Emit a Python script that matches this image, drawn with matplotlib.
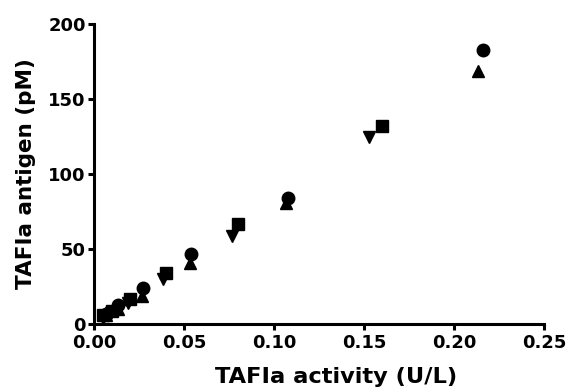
import matplotlib
matplotlib.use("Agg")
import matplotlib.pyplot as plt

plt.rcParams['font.family'] = ['DejaVu Sans']
plt.rcParams['font.weight'] = 'bold'

# TAFIa activity (U/L) vs TAFIa antigen (pM), four dilution series
circle_x = [0.216, 0.108, 0.054, 0.027, 0.0135, 0.0068]
circle_y = [183, 84, 46.5, 24, 12.5, 7]
tri_up_x = [0.2133, 0.1067, 0.0533, 0.0267, 0.0133, 0.0067]
tri_up_y = [169, 81, 41, 18.5, 10, 6]
square_x = [0.160, 0.080, 0.040, 0.020, 0.010, 0.005]
square_y = [132, 67, 34, 16.5, 9, 6]
tri_down_x = [0.1528, 0.0764, 0.0382, 0.0191, 0.0095, 0.0048]
tri_down_y = [124.5, 58.5, 30, 14, 7.5, 4]

x_ticks = [0.00, 0.05, 0.10, 0.15, 0.20, 0.25]
x_tick_labels = ["0.00", "0.05", "0.10", "0.15", "0.20", "0.25"]
y_ticks = [0, 50, 100, 150, 200]

fig = plt.figure(figsize=(5.69, 3.92), dpi=100)
ax = fig.add_axes([94/569, 1 - 324/392, 450/569, 300/392])

ax.plot(circle_x, circle_y, 'o', color='black', markersize=9, clip_on=False)
ax.plot(tri_up_x, tri_up_y, '^', color='black', markersize=9, clip_on=False)
ax.plot(square_x, square_y, 's', color='black', markersize=8, clip_on=False)
ax.plot(tri_down_x, tri_down_y, 'v', color='black', markersize=9, clip_on=False)

ax.set_xlim(0, 0.25)
ax.set_ylim(0, 200)
ax.set_xticks(x_ticks)
ax.set_xticklabels(x_tick_labels)
ax.set_yticks(y_ticks)

for s in ['top', 'right']:
    ax.spines[s].set_visible(False)
for s in ['left', 'bottom']:
    ax.spines[s].set_linewidth(2.2)

ax.tick_params(axis='both', direction='out', length=4.5, width=2.2,
               labelsize=13, pad=1.5)
ax.tick_params(axis='x', pad=3)
for lbl in ax.get_xticklabels() + ax.get_yticklabels():
    lbl.set_fontweight('bold')

ax.set_xlabel("TAFIa activity (U/L)", fontsize=16.2, fontweight='bold')
ax.xaxis.set_label_coords(0.538, -0.142)
ax.set_ylabel("TAFIa antigen (pM)", fontsize=15.5, fontweight='bold', labelpad=9)

fig.savefig("out.png", dpi=100)
